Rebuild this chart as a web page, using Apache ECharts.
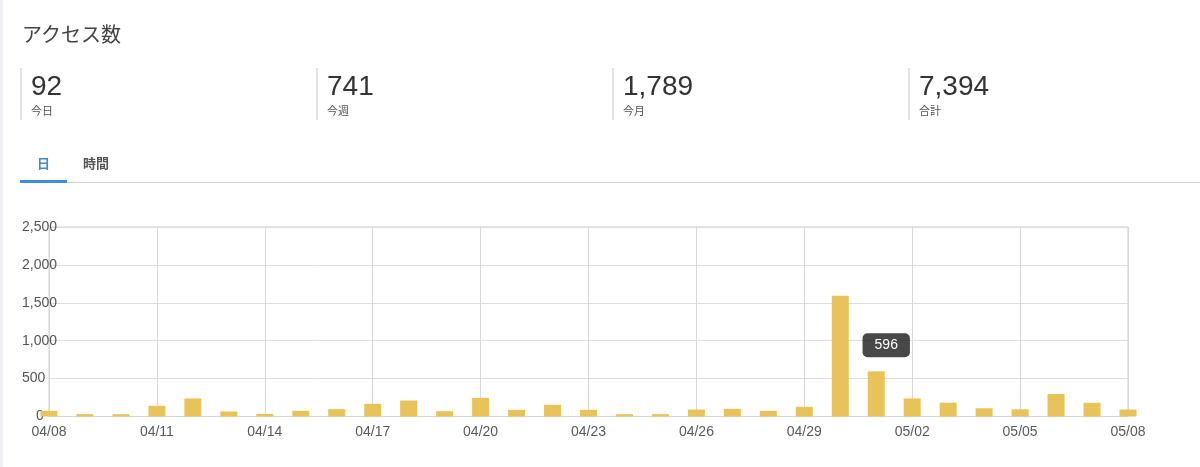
<!DOCTYPE html>
<html>
<head>
<meta charset="utf-8">
<script src="https://cdn.jsdelivr.net/npm/echarts@6/dist/echarts.min.js"></script>
<style>
  html, body { margin: 0; padding: 0; background: #fff; width: 1200px; height: 467px; overflow: hidden;
    font-family: "Liberation Sans", "Noto Sans CJK JP", sans-serif; }
  #chart { position: absolute; left: 0; top: 0; width: 1200px; height: 467px; }
  .abs { position: absolute; white-space: nowrap; }
  .title { left: 22px; top: 22px; font-size: 20px; line-height: 26px; color: #444; }
  .stat { top: 68px; height: 52px; border-left: 2px solid #e2e2e2; width: 280px; }
  .num { position: absolute; left: 9px; top: 2px; font-size: 28px; line-height: 32px; color: #333; }
  .lab { position: absolute; left: 9px; top: 36px; font-size: 11px; line-height: 14px; color: #555; }
  .tab { top: 155px; font-size: 13px; line-height: 18px; font-weight: bold; }
  .strip { left: 0; top: 0; width: 3px; height: 467px; background: #eef0f3; }
</style>
</head>
<body>
<div id="chart"></div>
<div class="abs strip"></div>
<div class="abs title">アクセス数</div>
<div id="stats"></div>
<div class="abs tab" style="left:37px;color:#3b8ed8;">日</div>
<div class="abs tab" style="left:83px;color:#555;">時間</div>
<div class="abs" style="left:20px;top:182px;width:1180px;height:1px;background:#cfd3d6;"></div>
<div class="abs" style="left:20px;top:180px;width:47px;height:3px;background:#3b8ed8;"></div>
<script>
const statValues = ["92", "741", "1,789", "7,394"];
const statLabels = ["今日", "今週", "今月", "合計"];

const categories = ["04/08","04/09","04/10","04/11","04/12","04/13","04/14","04/15","04/16","04/17",
  "04/18","04/19","04/20","04/21","04/22","04/23","04/24","04/25","04/26","04/27","04/28","04/29","04/30",
  "05/01","05/02","05/03","05/04","05/05","05/06","05/07","05/08"];
const visits = [75, 31, 30, 141, 238, 66, 35, 75, 97, 167,
  211, 70, 246, 88, 154, 88, 31, 31, 92, 101, 75, 128, 1593,
  596, 238, 182, 108, 95, 297, 181, 92];
const highlightIndex = 23;
const yTicks = [0, 500, 1000, 1500, 2000, 2500];

const statsEl = document.getElementById('stats');
statValues.forEach((v, i) => {
  const d = document.createElement('div');
  d.className = 'abs stat';
  d.style.left = (20 + 296 * i) + 'px';
  d.innerHTML = '<div class="num">' + v + '</div><div class="lab">' + statLabels[i] + '</div>';
  statsEl.appendChild(d);
});

const chart = echarts.init(document.getElementById('chart'));
const seriesData = visits.map((v, i) => {
  if (i !== highlightIndex) return v;
  return {
    value: v,
    label: {
      show: true, position: 'top', distance: 14, offset: [10, 0],
      formatter: '{c}', color: '#fff', fontSize: 14,
      fontFamily: 'Liberation Sans, sans-serif',
      backgroundColor: 'rgba(40,40,40,0.85)', borderRadius: 5,
      padding: [5, 12, 5, 12]
    }
  };
});
chart.setOption({
  animation: false,
  grid: { left: 49, right: 72, top: 227, bottom: 50.5, show: true, borderColor: '#cfcfcf', borderWidth: 1 },
  xAxis: {
    type: 'category', data: categories, boundaryGap: false,
    axisLine: { show: true, lineStyle: { color: '#d5d5d5' } },
    axisTick: { show: false },
    axisLabel: { interval: 2, color: '#5a5a5a', fontSize: 14, margin: 9, fontFamily: 'Liberation Sans, sans-serif' },
    splitLine: { show: true, interval: 2, lineStyle: { color: '#d9d9d9' } }
  },
  yAxis: {
    type: 'value', min: yTicks[0], max: yTicks[yTicks.length - 1], interval: yTicks[1] - yTicks[0],
    axisLine: { show: false }, axisTick: { show: false },
    splitLine: { lineStyle: { color: '#dedede' } },
    axisLabel: {
      align: 'left', margin: 27, color: '#555', fontSize: 14, fontFamily: 'Liberation Sans, sans-serif',
      formatter: v => v === 0 ? '{z|0}' : v.toLocaleString('en-US'),
      rich: { z: { padding: [0, 0, 0, 14], fontSize: 14, color: '#555' } }
    }
  },
  series: [{
    type: 'bar', data: seriesData, barWidth: 17, clip: false,
    itemStyle: { color: '#e8c35a' }
  }]
});
</script>
</body>
</html>
